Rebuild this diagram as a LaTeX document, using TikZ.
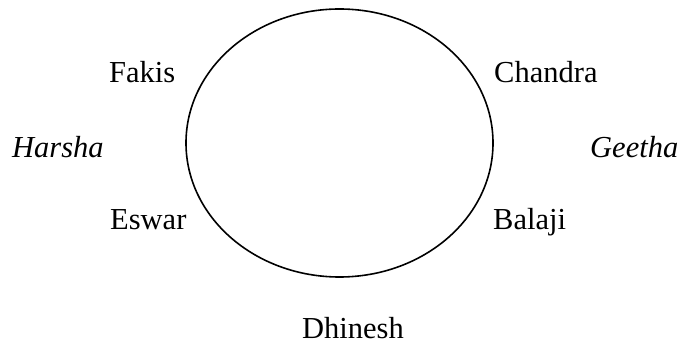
\documentclass[tikz,border=0pt]{standalone}
\usepackage{fontspec}
\setmainfont{Liberation Serif}
\usetikzlibrary{shapes.geometric}
\begin{document}
\begin{tikzpicture}[x=1pt,y=-1pt,
  lbl/.style={anchor=base west,inner sep=0pt,font=\fontsize{30.5}{36}\selectfont},
  ring/.style={draw=black,line width=1.6pt,ellipse,minimum width=307pt,minimum height=268pt,inner sep=0pt}]
\useasboundingbox (0,0) rectangle (682,344);
\node[ring] (ring) at (339.5,143) {};
\node[lbl] (fakis) at (109,83) {Fakis};
\node[lbl] (chandra) at (494,83) {Chandra};
\node[lbl] (harsha) at (12,158) {\itshape Harsha};
\node[lbl] (geetha) at (590,158) {\itshape Geetha};
\node[lbl] (eswar) at (110,230) {Eswar};
\node[lbl] (balaji) at (493,230) {Balaji};
\node[lbl] (dhinesh) at (302,338) {Dhinesh};
\end{tikzpicture}
\end{document}
